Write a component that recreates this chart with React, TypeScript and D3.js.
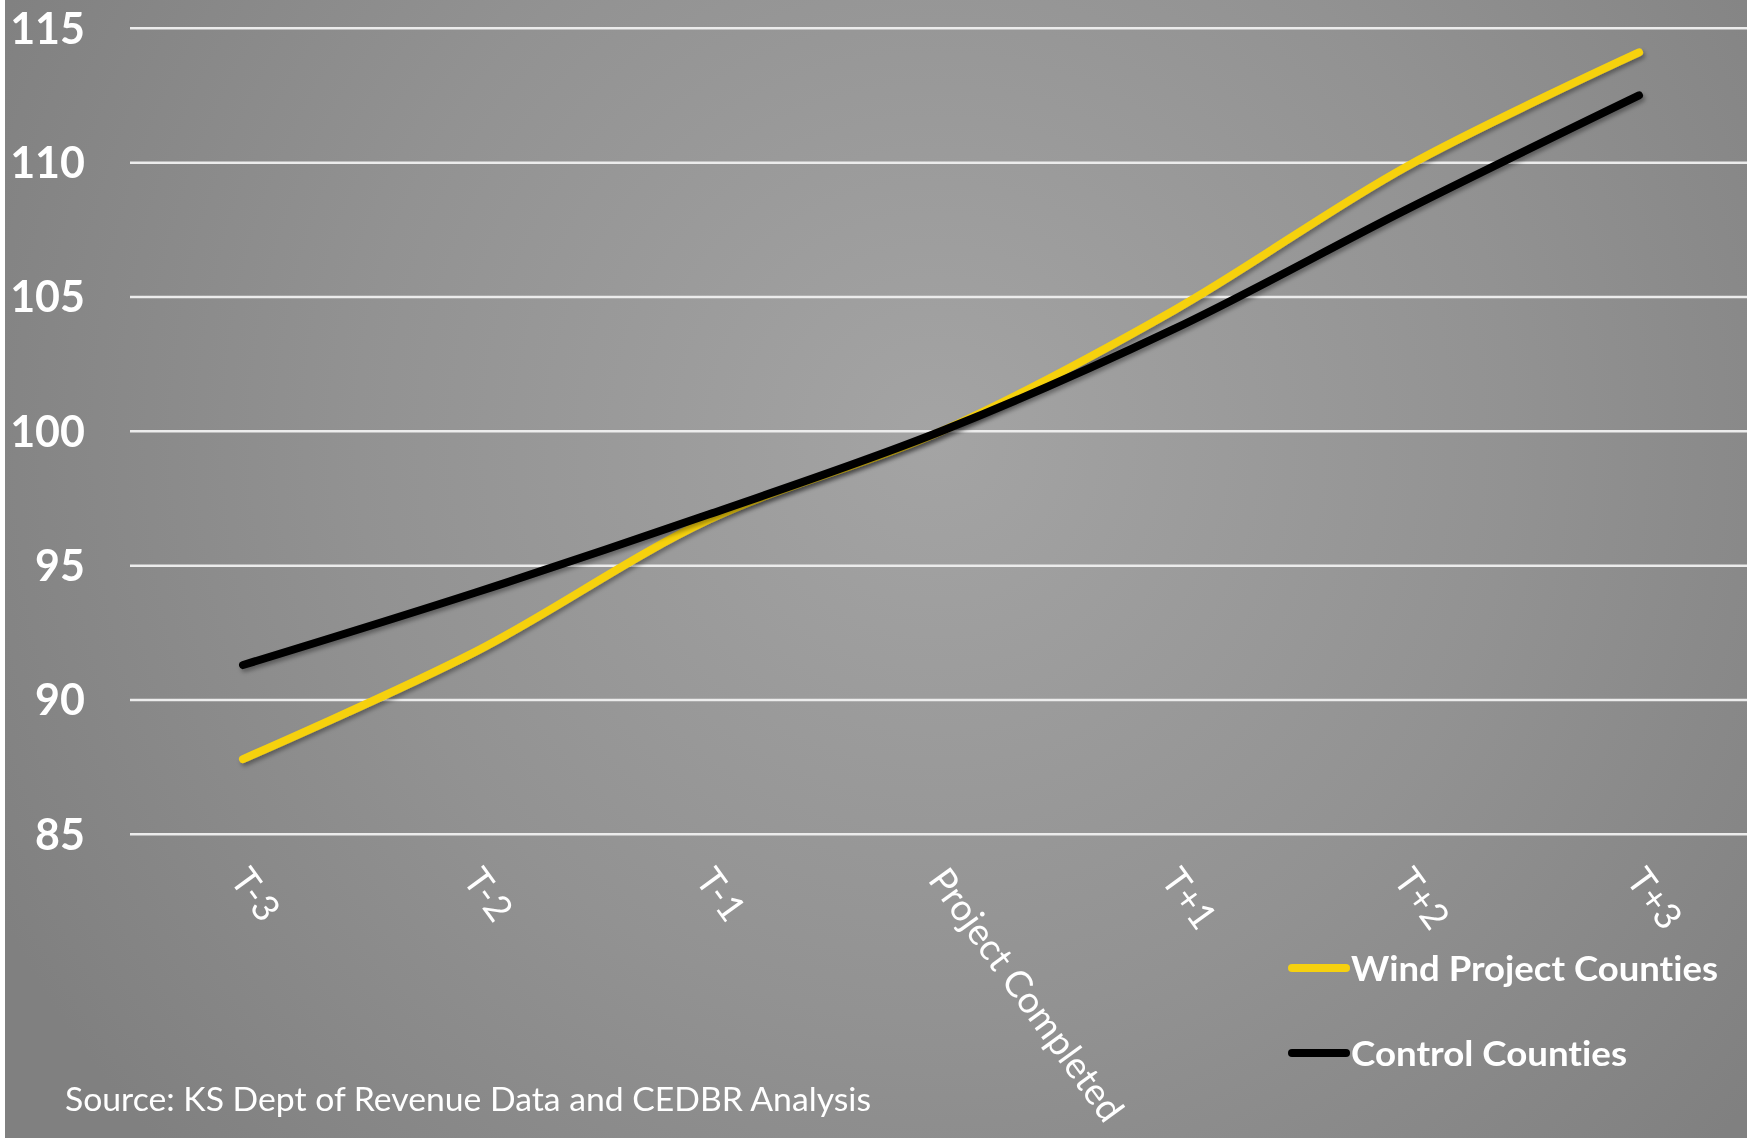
import React from "react";
import * as d3 from "d3";

const categories = ["T-3", "T-2", "T-1", "Project Completed", "T+1", "T+2", "T+3"];
const windValues = [87.8, 91.8, 96.7, 100, 104.5, 109.85, 114.1];
const controlValues = [91.3, 94.0, 96.9, 100, 103.8, 108.25, 112.5];
const yTicks = [85, 90, 95, 100, 105, 110, 115];
const seriesNames = ["Wind Project Counties", "Control Counties"];
const sourceText = "Source: KS Dept of Revenue Data and CEDBR Analysis";

const W = 1747;
const H = 1138;
const YELLOW = "#f6d10f";
const FONT = "Lato, 'Open Sans', sans-serif";

export default function App() {
  const x = d3.scalePoint<string>().domain(categories).range([243, 1639]);
  const y = d3.scaleLinear().domain([85, 115]).range([834.3, 28.3]);
  const line = d3
    .line<number>()
    .x((_, i) => x(categories[i]) as number)
    .y((d) => y(d))
    .curve(d3.curveCatmullRom.alpha(0.5));

  const series = [
    { name: seriesNames[0], values: windValues, color: YELLOW },
    { name: seriesNames[1], values: controlValues, color: "#000000" },
  ];

  return (
    <svg
      width={W}
      height={H}
      style={{
        position: "fixed",
        left: 0,
        top: 0,
        display: "block",
        fontVariantLigatures: "none",
        fontFeatureSettings: '"liga" 0, "dlig" 0',
      }}
      fontFamily={FONT}
    >
      <defs>
        <radialGradient id="bg" cx="936" cy="440" r="1050" gradientUnits="userSpaceOnUse">
          <stop offset="0" stopColor="#a4a4a4" />
          <stop offset="0.55" stopColor="#929292" />
          <stop offset="1" stopColor="#808080" />
        </radialGradient>
        <filter id="shadow" x="-10%" y="-10%" width="120%" height="120%">
          <feDropShadow dx="2" dy="3" stdDeviation="2" floodColor="#000" floodOpacity="0.35" />
        </filter>
      </defs>
      <rect x={0} y={0} width={W} height={H} fill="url(#bg)" />
      <rect x={0} y={0} width={5} height={H} fill="#ffffff" />

      {yTicks.map((t) => (
        <g key={t}>
          <line x1={130} x2={W} y1={y(t)} y2={y(t)} stroke="#ececec" strokeWidth={2.5} />
          <text
            x={85}
            y={y(t)}
            dy="0.36em"
            textAnchor="end"
            fill="#ffffff"
            fontSize={43}
            fontWeight="bold"
          >
            {t}
          </text>
        </g>
      ))}

      {categories.map((c) => {
        const cx = (x(c) as number) - 14;
        const cy = 880;
        return (
          <text
            key={c}
            x={cx}
            y={cy}
            transform={`rotate(54 ${cx} ${cy})`}
            fill="#ffffff"
            fontSize={37}
            textAnchor="start"
          >
            {c}
          </text>
        );
      })}

      {series.map((s) => (
        <path
          key={s.name}
          d={line(s.values) || ""}
          fill="none"
          stroke={s.color}
          strokeWidth={8}
          strokeLinecap="round"
          strokeLinejoin="round"
          filter="url(#shadow)"
        />
      ))}

      {series.map((s, i) => {
        const ly = 968 + i * 85;
        return (
          <g key={s.name}>
            <line
              x1={1292}
              x2={1346}
              y1={ly}
              y2={ly}
              stroke={s.color}
              strokeWidth={8}
              strokeLinecap="round"
            />
            <text
              x={1351}
              y={ly}
              dy="0.36em"
              fill="#ffffff"
              fontSize={35}
              fontWeight="bold"
              textLength={i === 0 ? 367 : 276}
              lengthAdjust="spacingAndGlyphs"
            >
              {s.name}
            </text>
          </g>
        );
      })}

      <text
        x={65}
        y={1111}
        fill="#ffffff"
        fontSize={32}
        textLength={806}
        lengthAdjust="spacingAndGlyphs"
      >
        {sourceText}
      </text>
    </svg>
  );
}
